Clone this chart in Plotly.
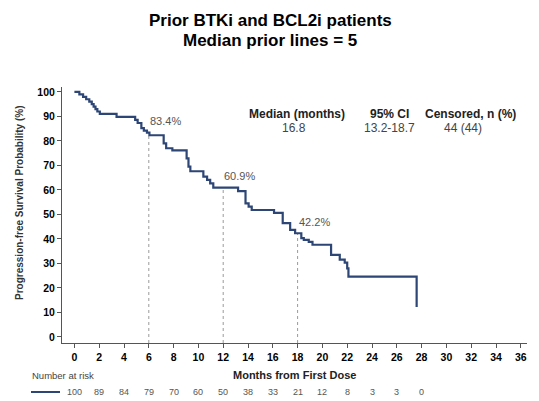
import plotly.graph_objects as go

# ---- data ----
km_months = [0, 0.4, 0.7, 0.95, 1.2, 1.4, 1.55, 1.7, 1.85, 2.05, 3.4, 4.9, 5.1, 5.4, 5.6, 5.85, 6.05,
             7.2, 7.4, 7.9, 9.05, 9.2, 9.35, 10.4, 10.7, 10.95, 11.2, 13.2, 13.8, 14.05, 14.3,
             16.1, 16.8, 17.4, 17.8, 18.3, 18.5, 18.9, 19.2, 20.7, 21.4, 21.8, 22.0, 22.1, 27.6]
km_surv = [100, 99, 98, 97, 96, 95, 94, 93, 92, 91, 89.8, 88.6, 87.3, 85.2, 84.2, 83.4, 82.3,
           79, 77, 76.1, 72.9, 69.5, 67.6, 65.4, 64.1, 62.7, 60.9, 59.5, 54.5, 53.2, 51.8,
           50.6, 46.4, 43.7, 42.3, 40.3, 39.6, 38.8, 37.6, 33.5, 31.5, 30.3, 28.0, 24.6, 12.2]
landmark_months = [6, 12, 18]
landmark_surv = [83.4, 60.9, 42.2]
landmark_labels = ["83.4%", "60.9%", "42.2%"]
x_ticks = list(range(0, 37, 2))
y_ticks = list(range(0, 101, 10))
risk_months = list(range(0, 29, 2))
risk_counts = [100, 89, 84, 79, 70, 60, 50, 38, 33, 21, 12, 8, 3, 3, 0]
stat_headers = ["Median (months)", "95% CI", "Censored, n (%)"]
stat_values = ["16.8", "13.2-18.7", "44 (44)"]

FONT = "Liberation Sans, Arial, sans-serif"
BLUE = "#2d4676"

L, R, T, B = 62, 12, 87, 58
W, H = 539, 401
PW, PH = W - L - R, H - T - B


def px(x):
    return (x - L) / PW


def py(y):
    return (H - B - y) / PH


fig = go.Figure()
fig.add_trace(go.Scatter(x=km_months, y=km_surv, mode="lines", line=dict(color=BLUE, width=2.2, shape="hv"),
                         hoverinfo="skip", showlegend=False))

shapes = []
annotations = []
for m, s, lab in zip(landmark_months, landmark_surv, landmark_labels):
    shapes.append(dict(type="line", xref="x", yref="y", x0=m, x1=m, y0=-2.5, y1=s,
                       line=dict(color="#9a9a9a", width=1, dash="dot"), layer="below"))
    annotations.append(dict(x=m, y=s, xref="x", yref="y", text=lab, showarrow=False,
                            xanchor="left", yanchor="bottom", xshift=-1, yshift=4,
                            font=dict(family=FONT, size=11, color="#555555")))

# stats table
head_x = [297, 389, 470]
val_x = [294, 389, 463]
for hx, vx, h, v in zip(head_x, val_x, stat_headers, stat_values):
    annotations.append(dict(x=px(hx), y=py(114), xref="paper", yref="paper", text="<b>%s</b>" % h,
                            showarrow=False, xanchor="center", yanchor="middle",
                            font=dict(family=FONT, size=12, color="#222222")))
    annotations.append(dict(x=px(vx), y=py(128), xref="paper", yref="paper", text=v,
                            showarrow=False, xanchor="center", yanchor="middle",
                            font=dict(family=FONT, size=12, color="#444444")))

# titles
annotations.append(dict(x=px(270), y=py(20), xref="paper", yref="paper",
                        text="<b>Prior BTKi and BCL2i patients</b>", showarrow=False,
                        xanchor="center", yanchor="middle", font=dict(family=FONT, size=17, color="black")))
annotations.append(dict(x=px(270), y=py(40), xref="paper", yref="paper",
                        text="<b>Median prior lines = 5</b>", showarrow=False,
                        xanchor="center", yanchor="middle", font=dict(family=FONT, size=17, color="black")))
annotations.append(dict(x=px(19), y=py(203), xref="paper", yref="paper",
                        text="<b>Progression-free Survival Probability (%)</b>", showarrow=False, textangle=-90,
                        xanchor="center", yanchor="middle", font=dict(family=FONT, size=10, color="#333333")))
annotations.append(dict(x=px(294), y=py(375), xref="paper", yref="paper",
                        text="<b>Months from First Dose</b>", showarrow=False,
                        xanchor="center", yanchor="middle", font=dict(family=FONT, size=11, color="#222222")))
annotations.append(dict(x=px(30), y=py(375), xref="paper", yref="paper",
                        text="Number at risk", showarrow=False,
                        xanchor="left", yanchor="middle", font=dict(family=FONT, size=9.5, color="#444444")))
for m, c in zip(risk_months, risk_counts):
    annotations.append(dict(x=m, y=py(392), xref="x", yref="paper", text=str(c), showarrow=False,
                            xanchor="center", yanchor="middle", font=dict(family=FONT, size=9, color="#555555")))
shapes.append(dict(type="line", xref="paper", yref="paper", x0=px(31), x1=px(60), y0=py(392), y1=py(392),
                   line=dict(color=BLUE, width=2)))

fig.update_layout(
    width=W, height=H,
    margin=dict(l=L, r=R, t=T, b=B),
    paper_bgcolor="white", plot_bgcolor="white",
    shapes=shapes, annotations=annotations,
    xaxis=dict(range=[-1, 36.5], tickvals=x_ticks, ticktext=["<b>%d</b>" % v for v in x_ticks],
               showgrid=False, zeroline=False, showline=True, linecolor="#555555", linewidth=1,
               ticks="outside", ticklen=4, tickcolor="#555555",
               tickfont=dict(family=FONT, size=10.5, color="black")),
    yaxis=dict(range=[-2.5, 102], tickvals=y_ticks, ticktext=["<b>%d</b>" % v for v in y_ticks],
               showgrid=False, zeroline=False, showline=True, linecolor="#555555", linewidth=1,
               ticks="outside", ticklen=4, tickcolor="#555555",
               tickfont=dict(family=FONT, size=10.5, color="black")),
)

fig.write_html("out.html")
